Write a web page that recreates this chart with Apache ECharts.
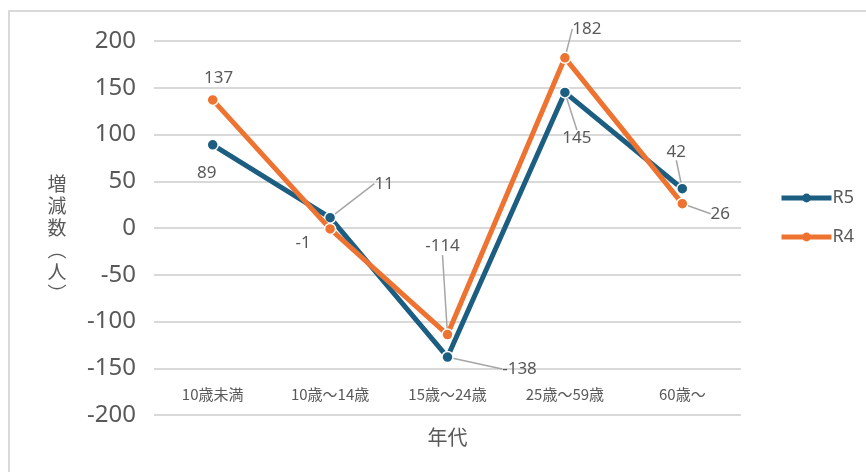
<!DOCTYPE html>
<html>
<head>
<meta charset="utf-8">
<script src="https://cdn.jsdelivr.net/npm/echarts@6/dist/echarts.min.js"></script>
<style>
  html, body { margin: 0; padding: 0; background: #fff; }
  #chart { width: 866px; height: 472px; }
</style>
</head>
<body>
<div id="chart"></div>
<script>
// Age groups and yearly change in population (persons)
const categories = ['10歳未満', '10歳～14歳', '15歳～24歳', '25歳～59歳', '60歳～'];
const seriesNames = ['R5', 'R4'];
const valuesR5 = [89, 11, -138, 145, 42];
const valuesR4 = [137, -1, -114, 182, 26];
const yTicks = [-200, -150, -100, -50, 0, 50, 100, 150, 200];

// Where each value label sits relative to its marker (px), and which ones get a leader line
const labelOffsets = [
  [[-6, 28], [54, -34], [72, 12], [12, 46], [-6, -37]],
  [[6, -22], [-27, 14], [-5, -88], [22, -29], [38, 10]]
];
const leaderLines = [
  [false, true, true, true, true],
  [false, false, true, true, true]
];

const colors = ['#1C5E82', '#EE7331'];
const textGray = '#595959';
const fontFamily = '"Noto Sans CJK JP", "Noto Sans", sans-serif';

function buildData(values, s) {
  return values.map((v, i) => ({
    value: v,
    labelLine: { show: leaderLines[s][i] }
  }));
}

const chart = echarts.init(document.getElementById('chart'));

chart.setOption({
  animation: false,
  textStyle: { fontFamily: fontFamily },
  graphic: [{
    type: 'rect',
    shape: { x: 9, y: 11, width: 900, height: 520 },
    style: { fill: 'none', stroke: '#D9D9D9', lineWidth: 2 },
    silent: true
  }],
  grid: { left: 154, right: 125, top: 41, bottom: 57 },
  legend: {
    orient: 'vertical',
    left: 774,
    top: 184,
    itemWidth: 50,
    itemHeight: 11,
    itemGap: 21,
    data: seriesNames,
    lineStyle: { width: 5 },
    itemStyle: { borderWidth: 0 },
    textStyle: { color: textGray, fontSize: 18, fontFamily: '"Noto Sans", sans-serif', padding: [0, 0, 0, -4] }
  },
  xAxis: {
    type: 'category',
    data: categories,
    boundaryGap: true,
    axisLine: { show: false },
    axisTick: { show: false },
    axisLabel: { color: textGray, fontSize: 15, margin: -28, fontFamily: fontFamily },
    name: '年代',
    nameLocation: 'middle',
    nameGap: 12,
    nameTextStyle: { color: textGray, fontSize: 20, fontFamily: fontFamily }
  },
  yAxis: {
    type: 'value',
    min: yTicks[0],
    max: yTicks[yTicks.length - 1],
    interval: 50,
    axisLine: { show: false },
    axisTick: { show: false },
    splitLine: { lineStyle: { color: '#D9D9D9', width: 2 } },
    axisLabel: { color: textGray, fontSize: 24, margin: 18, fontFamily: '"Noto Sans", sans-serif' },
    // vertical title, stacked one character per line
    name: '\n増\n減\n数\n︵\n人\n︶',
    nameLocation: 'middle',
    nameRotate: 0,
    nameGap: 97,
    nameTextStyle: {
      color: textGray, fontSize: 19, lineHeight: 22, fontFamily: fontFamily, align: 'center'
    }
  },
  series: [valuesR5, valuesR4].map((vals, s) => ({
    name: seriesNames[s],
    type: 'line',
    data: buildData(vals, s),
    color: colors[s],
    lineStyle: { width: 5, color: colors[s] },
    symbol: 'circle',
    symbolSize: 11,
    itemStyle: { color: colors[s], borderColor: '#fff', borderWidth: 1.5 },
    z: 2 + s,
    label: {
      show: true,
      position: 'inside',
      color: textGray,
      fontSize: 17,
      fontFamily: '"Noto Sans", sans-serif'
    },
    labelLine: {
      show: true,
      length2: 0,
      lineStyle: { color: '#A6A6A6', width: 1.5 }
    },
    labelLayout: function (p) {
      const o = labelOffsets[p.seriesIndex][p.dataIndex];
      return { dx: o[0], dy: o[1] };
    }
  }))
});
</script>
</body>
</html>
